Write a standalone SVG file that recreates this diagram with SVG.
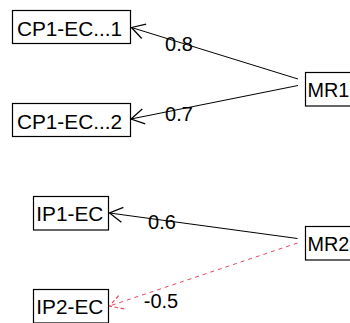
<svg xmlns="http://www.w3.org/2000/svg" width="350" height="323" viewBox="0 0 350 323">
<defs>
<style>
.box{fill:#fff;stroke:#000;stroke-width:1.2}
.t{font-family:"Liberation Sans",Arial,sans-serif;font-size:20px;fill:#000}
.n{font-size:20.8px}
.m{font-size:19.8px}
.e{fill:none;stroke:#000;stroke-width:1}
.neg{fill:none;stroke:#E8475F;stroke-width:1;stroke-dasharray:4,4}
</style>
<marker id="ah" markerUnits="userSpaceOnUse" markerWidth="20" markerHeight="20" viewBox="-12 -8 14 16" refX="0" refY="0" orient="auto">
<path d="M-10.4,-6 L0,0 L-10.4,6" fill="none" stroke="#000" stroke-width="1"/>
</marker>
<marker id="ahr" markerUnits="userSpaceOnUse" markerWidth="20" markerHeight="20" viewBox="-12 -8 14 16" refX="0" refY="0" orient="auto">
<path d="M-10.4,-6 L0,0 L-10.4,6" fill="none" stroke="#E8475F" stroke-width="1" stroke-dasharray="3,2"/>
</marker>
</defs>
<rect width="350" height="323" fill="#fff"/>
<g id="connectors">
<path class="e" d="M298,79 L131.5,27.5" marker-end="url(#ah)"/>
<path class="e" d="M298,85.5 L131,119" marker-end="url(#ah)"/>
<path class="e" d="M297.5,238.5 L109.5,213" marker-end="url(#ah)"/>
<path class="neg" d="M297.5,243 L109.5,306" marker-end="url(#ahr)"/>
<text class="t" x="179" y="51" text-anchor="middle">0.8</text>
<text class="t" x="179" y="121" text-anchor="middle">0.7</text>
<text class="t" x="162" y="229" text-anchor="middle">0.6</text>
<text class="t" x="161" y="307.5" text-anchor="middle">-0.5</text>
</g>
<g id="CP1-EC1">
<rect class="box" x="12.5" y="10.5" width="118" height="33"/>
<text class="t n" x="69.5" y="36" text-anchor="middle">CP1-EC...1</text>
</g>
<g id="CP1-EC2">
<rect class="box" x="12.5" y="103.5" width="118" height="33"/>
<text class="t n" x="69.5" y="128.5" text-anchor="middle">CP1-EC...2</text>
</g>
<g id="MR1">
<rect class="box" x="305.5" y="72.5" width="50" height="33.5"/>
<text class="t m" x="307.5" y="96.5">MR1</text>
</g>
<g id="IP1-EC">
<rect class="box" x="33.5" y="196.5" width="75" height="33.5"/>
<text class="t n" x="69.8" y="221" text-anchor="middle">IP1-EC</text>
</g>
<g id="IP2-EC">
<rect class="box" x="33.5" y="289.5" width="75" height="33.5"/>
<text class="t n" x="69.8" y="314.3" text-anchor="middle">IP2-EC</text>
</g>
<g id="MR2">
<rect class="box" x="305.5" y="226.5" width="50" height="33.5"/>
<text class="t m" x="307.5" y="251">MR2</text>
</g>
</svg>
